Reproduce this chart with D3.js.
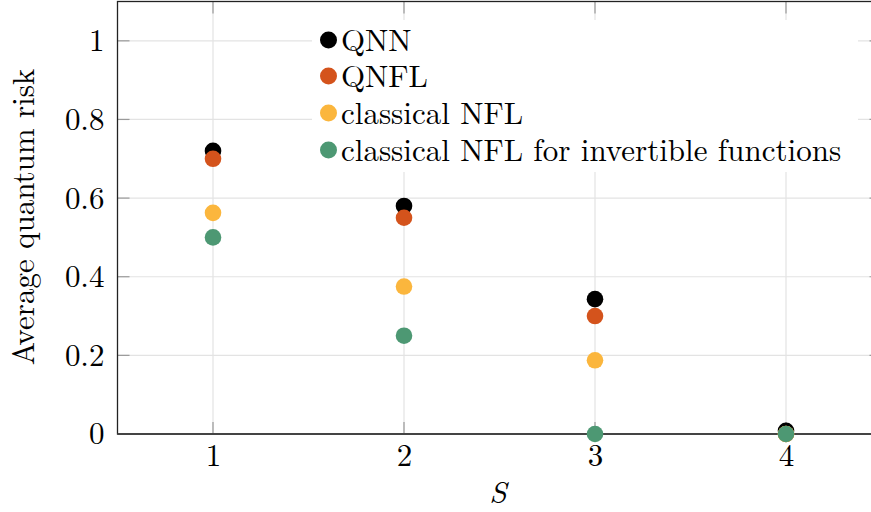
<!DOCTYPE html>
<html>
<head>
<meta charset="utf-8">
<script src="https://cdn.jsdelivr.net/npm/d3@7"></script>
<style>
  html, body { margin: 0; padding: 0; background: #fff; }
  svg { display: block; }
</style>
</head>
<body>
<svg id="chart" width="871" height="512"></svg>
<script>
// Number of training states S
const sizes = [1, 2, 3, 4];

// Average quantum risk per method
const seriesNames = ["QNN", "QNFL", "classical NFL", "classical NFL for invertible functions"];
const qnn = [0.72, 0.58, 0.343, 0.008];
const qnfl = [0.70, 0.55, 0.30, 0.0];
const classicalNfl = [0.5625, 0.375, 0.1875, 0.0];
const invertibleNfl = [0.5, 0.25, 0.0, 0.0];
const seriesColors = ["#000000", "#d4531c", "#fbb63d", "#4d9873"];

const yTicks = [0, 0.2, 0.4, 0.6, 0.8, 1];
const yTickLabels = ["0", "0.2", "0.4", "0.6", "0.8", "1"];

const series = [qnn, qnfl, classicalNfl, invertibleNfl].map((vals, i) => ({
  name: seriesNames[i], color: seriesColors[i], values: vals
}));

const FONT = "'Latin Modern Roman', 'Liberation Serif', serif";
const FS = 31;

const svg = d3.select("#chart");
const plotLeft = 117.5, plotRight = 881.5, plotTop = 1.5, plotBottom = 434;

const x = d3.scaleLinear().domain([0.5, 4.5]).range([plotLeft, plotRight]);
const y = d3.scaleLinear().domain([0, 1.1]).range([plotBottom, plotTop]);

// grid
const grid = svg.append("g");
grid.selectAll("line.v").data(sizes).join("line")
  .attr("x1", d => x(d)).attr("x2", d => x(d))
  .attr("y1", plotTop).attr("y2", plotBottom)
  .attr("stroke", "#e3e3e3").attr("stroke-width", 1.2);
grid.selectAll("line.h").data(yTicks.filter(d => d > 0)).join("line")
  .attr("x1", plotLeft).attr("x2", plotRight)
  .attr("y1", d => y(d)).attr("y2", d => y(d))
  .attr("stroke", "#e3e3e3").attr("stroke-width", 1.2);

// inward tick marks on all four sides
const tickLen = 12;
const ticks = svg.append("g").attr("stroke", "#9a9a9a").attr("stroke-width", 1.2);
sizes.forEach(s => {
  ticks.append("line").attr("x1", x(s)).attr("x2", x(s)).attr("y1", plotBottom).attr("y2", plotBottom - tickLen);
  ticks.append("line").attr("x1", x(s)).attr("x2", x(s)).attr("y1", plotTop).attr("y2", plotTop + tickLen);
});
yTicks.forEach(v => {
  ticks.append("line").attr("x1", plotLeft).attr("x2", plotLeft + tickLen).attr("y1", y(v)).attr("y2", y(v));
  ticks.append("line").attr("x1", plotRight).attr("x2", plotRight - tickLen).attr("y1", y(v)).attr("y2", y(v));
});

// frame
svg.append("rect")
  .attr("x", plotLeft).attr("y", plotTop)
  .attr("width", plotRight - plotLeft).attr("height", plotBottom - plotTop)
  .attr("fill", "none").attr("stroke", "#222").attr("stroke-width", 1.3);
svg.append("line")
  .attr("x1", plotLeft).attr("x2", plotRight).attr("y1", plotBottom).attr("y2", plotBottom)
  .attr("stroke", "#444").attr("stroke-width", 1.8);

// tick labels through d3 axes (axis lines hidden)
const xAxis = svg.append("g").attr("transform", `translate(0,${plotBottom})`)
  .call(d3.axisBottom(x).tickValues(sizes).tickFormat(d3.format("d")).tickSize(0).tickPadding(10));
xAxis.select(".domain").remove();
xAxis.selectAll("text").attr("font-size", FS).style("font-family", FONT).attr("fill", "#000");

const yAxis = svg.append("g").attr("transform", `translate(${plotLeft},0)`)
  .call(d3.axisLeft(y).tickValues(yTicks).tickFormat((d, i) => yTickLabels[i]).tickSize(0).tickPadding(13));
yAxis.select(".domain").remove();
yAxis.selectAll("text").attr("font-size", FS).style("font-family", FONT).attr("fill", "#000");

svg.append("text")
  .attr("x", 498).attr("y", 503)
  .attr("text-anchor", "middle")
  .attr("font-size", FS).attr("font-style", "italic")
  .style("font-family", FONT)
  .text("S");

svg.append("text")
  .attr("transform", "translate(34,217) rotate(-90)")
  .attr("text-anchor", "middle")
  .attr("font-size", FS)
  .style("font-family", FONT)
  .text("Average quantum risk");

// legend (white box covers grid)
const legend = svg.append("g");
legend.append("rect")
  .attr("x", 312).attr("y", 20).attr("width", 546).attr("height", 152)
  .attr("fill", "#fff");
const rowY = [40, 76, 113, 150];
series.forEach((s, i) => {
  legend.append("circle").attr("cx", 328.5).attr("cy", rowY[i]).attr("r", 8.5).attr("fill", s.color);
  legend.append("text")
    .attr("x", 341).attr("y", rowY[i] + 11)
    .attr("font-size", FS)
    .style("font-family", FONT)
    .text(s.name);
});

// points
const pts = svg.append("g");
series.forEach(s => {
  pts.selectAll(null).data(s.values.map((v, i) => ({ s: sizes[i], v }))).join("circle")
    .attr("cx", d => x(d.s)).attr("cy", d => y(d.v))
    .attr("r", 8.3).attr("fill", s.color);
});
</script>
</body>
</html>
